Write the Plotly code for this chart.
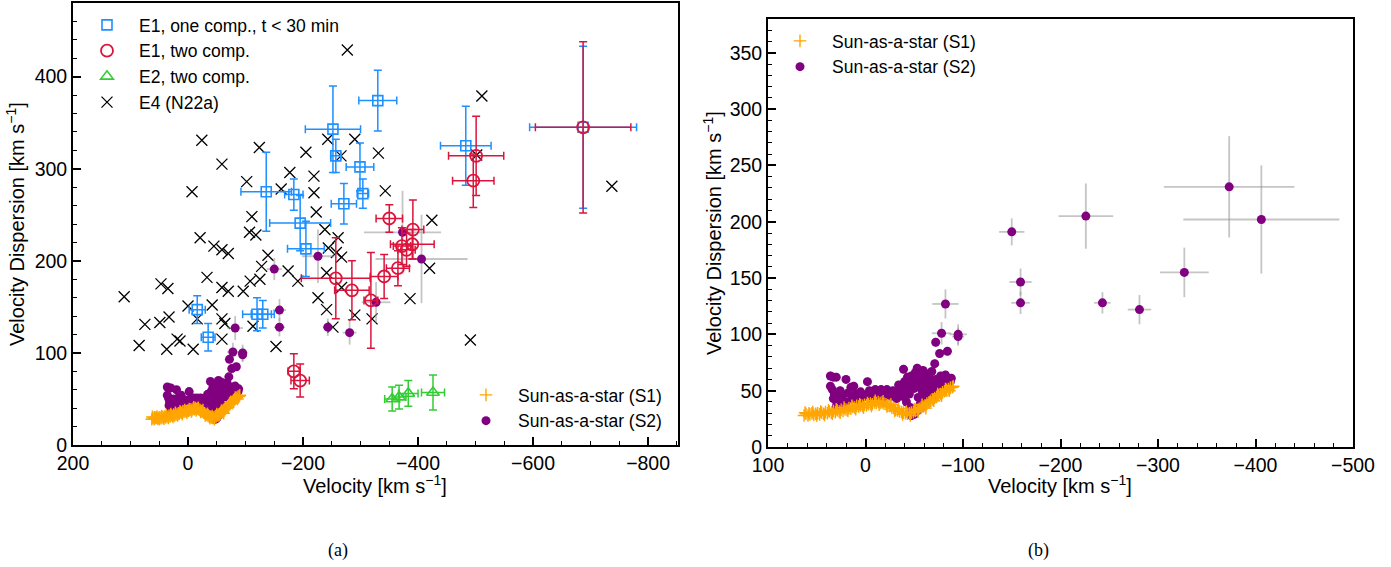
import plotly.graph_objects as go

W, H = 1391, 567

# ---------------- data (velocity [km/s], dispersion [km/s]) ----------------
# E1, one component, t < 30 min
e1a_v = [-330, -252, -257, -299, -136, -184, -304, -271, -195, -205, -16, -35, -120, -130, -483, -687]
e1a_s = [374, 343, 314, 302, 275, 272, 273, 262, 241, 213, 147, 117, 142, 142, 325, 345]
e1a_ev = [33, 48, 9, 24, 44, 16, 10, 22, 53, 32, 14, 12, 25, 20, 44, 93]
e1a_es = [33, 47, 18, 26, 43, 17, 16, 22, 30, 30, 15, 15, 18, 15, 43, 88]

# E1, two components
e1b_v = [-687, -501, -496, -350, -391, -390, -372, -380, -365, -341, -318, -285, -257, -184, -195]
e1b_s = [345, 314, 287, 246, 234, 218, 216, 212, 192, 183, 157, 168, 181, 80, 70]
e1b_ev = [83, 48, 36, 23, 19, 38, 15, 15, 20, 24, 12, 30, 60, 10, 16]
e1b_es = [93, 43, 29, 15, 32, 16, 20, 18, 19, 24, 52, 32, 44, 19, 18]

# E2, two components
e2_v = [-355, -367, -383, -426]
e2_s = [50, 52, 56, 57]
e2_ev = [13, 12, 17, 20]
e2_es = [13, 13, 14, 19]

# E4 (N22a)
e4_v = [-277, -24, -59, -7, -124, -102, -111, -107, -118, -21, -177, -162, -205, -219, -219,
        -223, -238, -243, -290, -266, -331, -343, -511, -737, -424, -502, -261, -258, -267, -244,
        -420, -386, -267, -290, -320, -491, -252, -241, -226, -241, 111, 75, 85, 47, 35,
        49, 33, 37, 19, 14, 0, -9, -45, -59, -70, -33, -59, -70, -42, -59,
        -64, -59, -96, -108, -125, -128, -139, -113, -174, -153, -191, -16]
e4_s = [429, 331, 305, 275, 323, 286, 248, 231, 228, 225, 296, 278, 318, 292, 274,
        253, 234, 332, 332, 314, 317, 276, 379, 281, 244, 315, 225, 209, 204, 214,
        192, 159, 171, 141, 137, 114, 128, 187, 160, 147, 161, 131, 108, 175, 170,
        133, 139, 104, 115, 113, 151, 104, 216, 212, 208, 182, 171, 167, 152, 137,
        132, 115, 167, 178, 180, 194, 206, 129, 189, 107, 178, 137]

# Sun-as-a-star (S1)
s1_v = [63, 61, 59, 57, 55, 53, 51, 49, 47, 45, 43, 41, 39, 37, 35, 33, 31, 29, 27, 25,
        23, 21, 19, 17, 15, 13, 11, 9, 7, 5, 3, 1, -1, -3, -5, -7, -9, -11, -13, -15,
        -17, -19, -21, -23, -25, -27, -29, -31, -33, -35, -37, -39, -41, -43, -45, -47, -49, -51,
        -53, -55, -57, -59, -61, -63, -65, -67, -69, -71, -73, -75, -77, -79, -81, -83, -85, -87, -89,
        62, 58, 54, 50, 46, 42, 38, 34, 30, 26, 22, 18, 14, 10, 6, 2, -2, -6, -10, -14,
        -18, -22, -26, -30, -34, -38, -42, -46, -50, -54, -58, -62, -66, -70, -74, -78, -82, -86, -90]
s1_s = [28, 29.5, 28, 29, 30, 28.5, 29.5, 30, 29, 30.5, 29.5, 31, 30, 31.5, 30.5, 32, 31, 32.5, 31.5, 33,
        32, 33.5, 33, 34.5, 34, 35.5, 35, 36.5, 36, 37, 36.5, 37.5, 37, 38, 38.5, 38, 39.5, 39, 40, 39,
        39.5, 38.5, 38, 37, 36.5, 35, 34.5, 33, 32.5, 31.5, 31, 30.5, 30, 29.5, 30, 30.5, 31, 32,
        33, 34, 35, 36, 37, 38.5, 39.5, 41, 42, 43.5, 44.5, 46, 47, 48.5, 49.5, 50.5, 51.5, 52.5, 53,
        30.5, 30, 31, 28, 31.5, 28.5, 32.5, 29.5, 33.5, 30.5, 35, 32, 36.5, 33.5, 38, 35, 39, 36.5, 41, 37.5,
        40.5, 36, 38, 32, 34, 29, 31.5, 28, 33.5, 31.5, 37.5, 34.5, 40, 41, 47, 45.5, 51.5, 50, 54]

# Sun-as-a-star (S2): individual points with their uncertainties
s2_v = [-82, -78, -95, -95, -150, -159, -159, -226, -243, -281, -327, -373, -406]
s2_s = [127, 101, 100, 98, 191, 146.5, 128, 205, 128, 122, 155, 231, 202]
s2_ev = [13.5, 10, 9, 6, 13, 11.5, 9.5, 28, 8.5, 12, 25, 67, 80]
s2_es = [13, 10, 9, 8, 12, 12, 10, 29, 9.5, 13, 22, 45, 48]
# Sun-as-a-star (S2): dense low-velocity group
s2c_v = [36, 33, 30, 36, 34, 32, 33, 30, 28, 26, 24, 20, 18, 15, 14, 12, 10, 8, 5, 3,
         0, -2, -4, -5, -8, -10, -12, -14, -16, -18, -20, -22, -24, -26, -28, -30, -32, -34, -35, -37,
         -38, -39, -40, -41, -42, -43, -44, -45, -46, -47, -48, -49, -50, -51, -52, -53, -54, -55, -56, -57,
         -58, -59, -60, -61, -62, -63, -64, -65, -66, -67, -68, -69, -70, -71, -72, -73, -74, -76, -77, -78,
         -80, -82, -84, -85, -87, -88, -72, -47, -50, -53, -58, -62, 25, 20, 30, -66, -70, -75]
s2c_s = [63, 62, 62, 54, 51, 47, 43, 41, 45, 50, 44, 60, 48, 53, 43, 54, 47, 41, 49, 44,
         46, 58, 50, 42, 48, 51, 45, 49, 51, 44, 49, 51, 47, 45, 50, 48, 43, 55, 49, 52,
         45, 69, 58, 50, 40, 62, 54, 47, 35, 63, 57, 31, 52, 66, 60, 70, 44, 56, 38, 64,
         50, 68, 59, 46, 65, 55, 42, 62, 49, 58, 67, 52, 45, 74, 60, 55, 48, 83, 63, 57,
         52, 64, 85, 60, 58, 61, 93, 28, 29, 32, 36, 40, 38, 40, 36, 44, 50, 56]
s2c_err = [4] * len(s2c_v)

BLUE = "#1E90FF"
RED = "#DC143C"
GREEN = "#32CD32"
PURPLE = "#800080"
ORANGE = "#FFA500"
GREY = "rgba(150,150,150,0.55)"

fig = go.Figure()


def add_sun(xa, ya, leg):
    fig.add_trace(go.Scatter(
        x=s2_v + s2c_v, y=s2_s + s2c_s, mode="markers", name="Sun-as-a-star (S2)",
        xaxis=xa, yaxis=ya, legend=leg, legendrank=2,
        marker=dict(symbol="circle", size=9, color=PURPLE),
        error_x=dict(type="data", array=s2_ev + s2c_err, color=GREY, thickness=1.8, width=0),
        error_y=dict(type="data", array=s2_es + s2c_err, color=GREY, thickness=1.8, width=0),
    ))
    fig.add_trace(go.Scatter(
        x=s1_v, y=s1_s, mode="markers", name="Sun-as-a-star (S1)",
        xaxis=xa, yaxis=ya, legend=leg, legendrank=1,
        marker=dict(symbol="cross-thin", size=9, color=ORANGE, line=dict(color=ORANGE, width=1.4)),
        error_y=dict(type="constant", value=2.5, color=ORANGE, thickness=1, width=0),
    ))


# left panel
fig.add_trace(go.Scatter(
    x=e4_v, y=e4_s, mode="markers", name="E4 (N22a)", xaxis="x", yaxis="y",
    legend="legend", legendrank=4,
    marker=dict(symbol="x-thin", size=11, color="black", line=dict(color="black", width=1.3)),
))
add_sun("x", "y", "legend2")
fig.add_trace(go.Scatter(
    x=e1a_v, y=e1a_s, mode="markers", name="E1, one comp., t < 30 min", xaxis="x", yaxis="y",
    legend="legend", legendrank=1,
    marker=dict(symbol="square-open", size=10, color=BLUE, line=dict(color=BLUE, width=1.6)),
    error_x=dict(type="data", array=e1a_ev, color=BLUE, thickness=1.5, width=4),
    error_y=dict(type="data", array=e1a_es, color=BLUE, thickness=1.5, width=4),
))
fig.add_trace(go.Scatter(
    x=e1b_v, y=e1b_s, mode="markers", name="E1, two comp.", xaxis="x", yaxis="y",
    legend="legend", legendrank=2,
    marker=dict(symbol="circle-open", size=12, color=RED, line=dict(color=RED, width=1.8)),
    error_x=dict(type="data", array=e1b_ev, color=RED, thickness=1.5, width=4),
    error_y=dict(type="data", array=e1b_es, color=RED, thickness=1.5, width=4),
))
fig.add_trace(go.Scatter(
    x=e2_v, y=e2_s, mode="markers", name="E2, two comp.", xaxis="x", yaxis="y",
    legend="legend", legendrank=3,
    marker=dict(symbol="triangle-up-open", size=11, color=GREEN, line=dict(color=GREEN, width=1.6)),
    error_x=dict(type="data", array=e2_ev, color=GREEN, thickness=1.5, width=4),
    error_y=dict(type="data", array=e2_es, color=GREEN, thickness=1.5, width=4),
))

# right panel
add_sun("x2", "y2", "legend3")

FONT = "Liberation Sans, Arial, sans-serif"
axis_common = dict(
    showline=True, linecolor="black", linewidth=1.8, mirror=True,
    ticks="inside", ticklen=8, tickwidth=1.5, tickcolor="black",
    showgrid=False, zeroline=False, automargin=False,
    tickfont=dict(family=FONT, size=19.5, color="black"),
)


def px_x(p):
    return p / W


def px_y(p):
    return 1 - p / H


leg_common = dict(xanchor="left", yanchor="top", itemwidth=54, bgcolor="rgba(0,0,0,0)",
                  font=dict(family=FONT, size=17.5, color="black"), traceorder="normal")

fig.update_layout(
    width=W, height=H,
    margin=dict(l=0, r=0, t=0, b=0, autoexpand=False),
    paper_bgcolor="white", plot_bgcolor="white",
    font=dict(family=FONT, color="black"),
    xaxis=dict(domain=[px_x(73), px_x(678)], range=[200, -852], dtick=200, anchor="y",
               minor=dict(ticks="inside", dtick=50, ticklen=4, tickcolor="black", tickwidth=1.2),
               **axis_common),
    yaxis=dict(domain=[px_y(445), px_y(3)], range=[0, 480], dtick=100, anchor="x",
               minor=dict(ticks="inside", dtick=20, ticklen=4, tickcolor="black", tickwidth=1.2),
               **axis_common),
    xaxis2=dict(domain=[px_x(768), px_x(1353)], range=[100, -500], dtick=100, anchor="y2",
                minor=dict(ticks="inside", dtick=20, ticklen=4, tickcolor="black", tickwidth=1.2),
                **axis_common),
    yaxis2=dict(domain=[px_y(447), px_y(19)], range=[0, 380], dtick=50, anchor="x2",
                minor=dict(ticks="inside", dtick=10, ticklen=4, tickcolor="black", tickwidth=1.2),
                **axis_common),
    legend=dict(x=px_x(75), y=px_y(7), **leg_common),
    legend2=dict(x=px_x(454), y=px_y(377), **leg_common),
    legend3=dict(x=px_x(768), y=px_y(23), **leg_common),
    showlegend=True,
)

ttl = "Velocity Dispersion [km s<sup>−1</sup>]"
xt = "Velocity [km s<sup>−1</sup>]"
TF = dict(family=FONT, size=20, color="black")
ann = [
    dict(text=xt, x=px_x(375), y=px_y(484), xref="paper", yref="paper", showarrow=False,
         font=TF, xanchor="center", yanchor="middle"),
    dict(text=xt, x=px_x(1060), y=px_y(484), xref="paper", yref="paper", showarrow=False,
         font=TF, xanchor="center", yanchor="middle"),
    dict(text=ttl, x=px_x(15), y=px_y(224), xref="paper", yref="paper", showarrow=False,
         textangle=-90, font=TF, xanchor="center", yanchor="middle"),
    dict(text=ttl, x=px_x(713), y=px_y(233), xref="paper", yref="paper", showarrow=False,
         textangle=-90, font=TF, xanchor="center", yanchor="middle"),
    dict(text="(a)", x=px_x(338), y=px_y(550), xref="paper", yref="paper", showarrow=False,
         font=dict(family="Liberation Serif, serif", size=18, color="black"), xanchor="center", yanchor="middle"),
    dict(text="(b)", x=px_x(1038), y=px_y(550), xref="paper", yref="paper", showarrow=False,
         font=dict(family="Liberation Serif, serif", size=18, color="black"), xanchor="center", yanchor="middle"),
]
fig.update_layout(annotations=ann)

fig.write_html("out.html", config={"displayModeBar": False},
               post_script="document.body.style.margin='0px';document.body.style.padding='0px';")
